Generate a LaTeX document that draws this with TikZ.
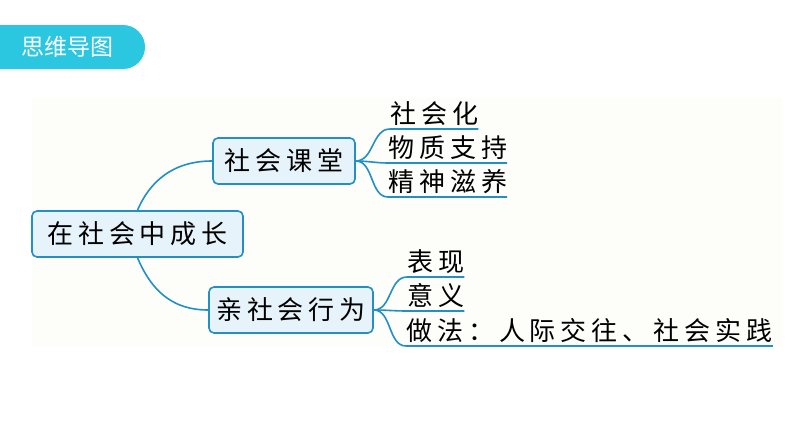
\documentclass[tikz,border=0pt]{standalone}
\usepackage{fontspec}
\setmainfont{Noto Sans CJK SC}
\usetikzlibrary{positioning}
\definecolor{tabcyan}{HTML}{2BC6E0}
\definecolor{linkblue}{HTML}{2290C4}
\definecolor{boxfill}{HTML}{E6F3FA}
\definecolor{paper}{HTML}{FDFDFA}
\newfontfamily\cnspaced[LetterSpace=19]{Noto Sans CJK SC}

\begin{document}
\begin{tikzpicture}[
    x=1pt, y=-1pt,
    topic/.style={draw=linkblue, line width=1.6pt, fill=boxfill, rounded corners=5pt,
      minimum height=46pt, inner xsep=0pt, font=\fontsize{26}{26}\cnspaced},
    leaf/.style={anchor=south west, inner xsep=0pt, inner ysep=3pt,
      font=\fontsize{26}{26}\cnspaced},
    link/.style={draw=linkblue, line width=1.6pt}
    ]

    \useasboundingbox (0,0) rectangle (794,447);
    \fill[paper] (32,98) rectangle (783,346);

    % title tab
    \fill[tabcyan] (0,25) -- (123,25) arc[start angle=90, end angle=-90, radius=22pt] -- (0,69) -- cycle;
    \node[text=white, font=\fontsize{23}{23}\selectfont, anchor=west] (title) at (18,47) {思维导图};

    \node[topic, minimum width=211pt] (root) at (137.5,234) {在社会中成长};
    \node[topic, minimum width=142pt] (ketang) at (284,161) {社会课堂};
    \node[topic, minimum width=164pt] (xingwei) at (291,310) {亲社会行为};

    \node[leaf] (hua) at (390,129) {社会化};
    \node[leaf] (wuzhi) at (388,163) {物质支持};
    \node[leaf] (jingshen) at (388,197) {精神滋养};

    \node[leaf] (biaoxian) at (407,277) {表现};
    \node[leaf] (yiyi) at (407,311) {意义};
    \node[leaf] (zuofa) at (406,346) {做法：人际交往、社会实践};

    \path[link] (root.north) .. controls +(12,-28) and +(-40,0) .. (ketang.west);
    \path[link] (root.south) .. controls +(12,28) and +(-40,0) .. (xingwei.west);

    \path[link] (ketang.east) .. controls +(18,0) and +(-18,0) .. (hua.south west) -- (hua.south east);
    \path[link] (ketang.east) .. controls +(12,0) and +(-12,0) .. (wuzhi.south west) -- (wuzhi.south east);
    \path[link] (ketang.east) .. controls +(18,0) and +(-18,0) .. (jingshen.south west) -- (jingshen.south east);

    \path[link] (xingwei.east) .. controls +(18,0) and +(-18,0) .. (biaoxian.south west) -- (biaoxian.south east);
    \path[link] (xingwei.east) .. controls +(12,0) and +(-12,0) .. (yiyi.south west) -- (yiyi.south east);
    \path[link] (xingwei.east) .. controls +(18,0) and +(-18,0) .. (zuofa.south west) -- (zuofa.south east);

  \end{tikzpicture}
\end{document}
